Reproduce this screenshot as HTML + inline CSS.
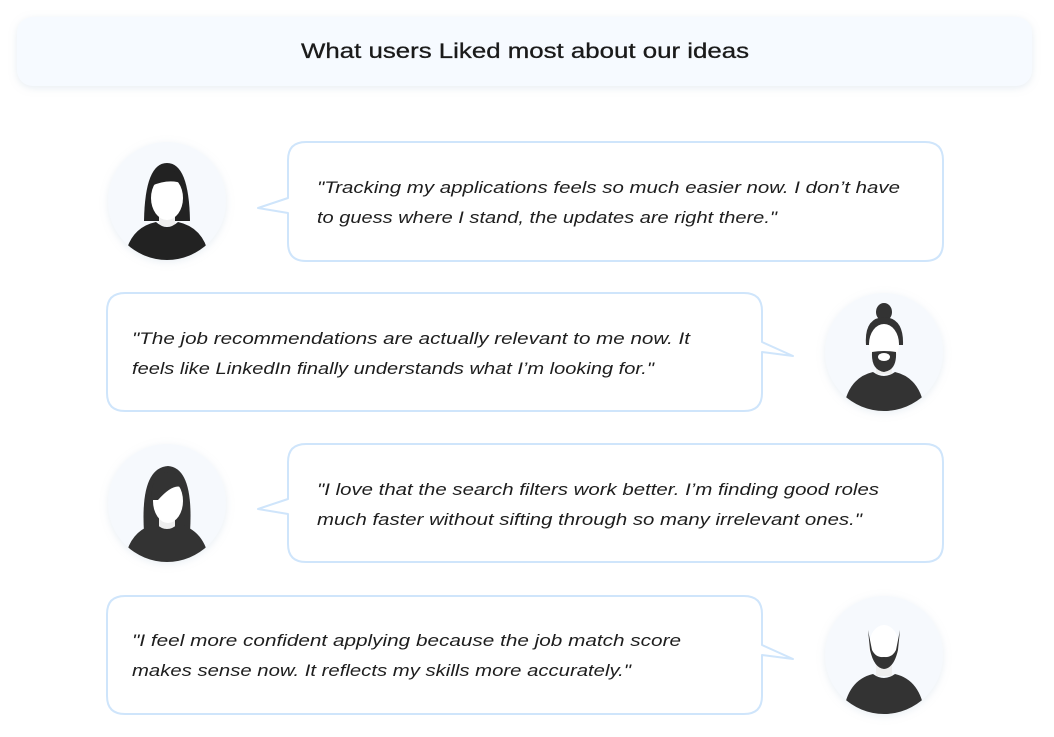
<!DOCTYPE html>
<html><head><meta charset="utf-8"><style>
html,body{margin:0;padding:0;background:#fff;}
svg{display:block;}
text{font-family:"Liberation Sans",sans-serif;}
.q{font-size:17px;font-style:italic;fill:#1e1e1e;}
</style></head><body>
<svg width="1054" height="737" viewBox="0 0 1054 737" xmlns="http://www.w3.org/2000/svg">
<defs>
<filter id="sh" x="-20%" y="-40%" width="140%" height="180%"><feDropShadow dx="0" dy="2" stdDeviation="4" flood-color="#9fb6cc" flood-opacity="0.25"/></filter>
<filter id="cs" x="-30%" y="-30%" width="160%" height="160%"><feDropShadow dx="0" dy="2" stdDeviation="4" flood-color="#a8bdd2" flood-opacity="0.25"/></filter>
<clipPath id="c1"><circle cx="167" cy="201" r="59"/></clipPath>
<clipPath id="c2"><circle cx="884" cy="352" r="59"/></clipPath>
<clipPath id="c3"><circle cx="167" cy="503" r="59"/></clipPath>
<clipPath id="c4"><circle cx="884" cy="655" r="59"/></clipPath>
</defs>
<rect x="17" y="17" width="1015" height="69" rx="16" fill="#f6faff" filter="url(#sh)"/>
<text x="525" y="58" text-anchor="middle" font-size="21" fill="#1a1a1a" stroke="#1a1a1a" stroke-width="0.3" textLength="448" lengthAdjust="spacingAndGlyphs">What users Liked most about our ideas</text>

<g fill="#fff" stroke="#cfe5fb" stroke-width="2" stroke-linejoin="round">
<path d="M306,142 H925 Q943,142 943,160 V243 Q943,261 925,261 H306 Q288,261 288,243 V213 L258,208 L288,198 V160 Q288,142 306,142 Z"/>
<path d="M125,293 H744 Q762,293 762,311 V342 L793,356 L762,352 V393 Q762,411 744,411 H125 Q107,411 107,393 V311 Q107,293 125,293 Z"/>
<path d="M306,444 H925 Q943,444 943,462 V544 Q943,562 925,562 H306 Q288,562 288,544 V514 L258,509 L288,499 V462 Q288,444 306,444 Z"/>
<path d="M125,596 H744 Q762,596 762,614 V645 L793,659 L762,655 V696 Q762,714 744,714 H125 Q107,714 107,696 V614 Q107,596 125,596 Z"/>
</g>

<text class="q" x="317" y="193" textLength="583" lengthAdjust="spacingAndGlyphs">"Tracking my applications feels so much easier now. I don’t have</text>
<text class="q" x="317" y="223" textLength="460" lengthAdjust="spacingAndGlyphs">to guess where I stand, the updates are right there."</text>
<text class="q" x="132" y="344" textLength="558" lengthAdjust="spacingAndGlyphs">"The job recommendations are actually relevant to me now. It</text>
<text class="q" x="132" y="374" textLength="522" lengthAdjust="spacingAndGlyphs">feels like LinkedIn finally understands what I’m looking for."</text>
<text class="q" x="317" y="495" textLength="562" lengthAdjust="spacingAndGlyphs">"I love that the search filters work better. I’m finding good roles</text>
<text class="q" x="317" y="525" textLength="545" lengthAdjust="spacingAndGlyphs">much faster without sifting through so many irrelevant ones."</text>
<text class="q" x="132" y="646" textLength="549" lengthAdjust="spacingAndGlyphs">"I feel more confident applying because the job match score</text>
<text class="q" x="132" y="676" textLength="499" lengthAdjust="spacingAndGlyphs">makes sense now. It reflects my skills more accurately."</text>

<g filter="url(#cs)" fill="#f6f9fd">
<circle cx="167" cy="201" r="59"/><circle cx="884" cy="352" r="59"/>
<circle cx="167" cy="503" r="59"/><circle cx="884" cy="655" r="59"/>
</g>
<g clip-path="url(#c1)">
<path d="M144,221 Q145,163 167,163 Q189,163 190,221 Z" fill="#222"/>
<rect x="159" y="212" width="16" height="14" fill="#eee"/>
<path d="M124,262 Q128,228 156,222 Q167,232 178,222 Q206,228 210,262 Z" fill="#222"/>
<ellipse cx="167" cy="198" rx="16" ry="22" fill="#fff"/>
<path d="M151,186 Q153,170 167,170 Q181,170 183,184 Q170,178 151,186 Z" fill="#222"/>
</g>
<g clip-path="url(#c2)">
<ellipse cx="884" cy="312" rx="8" ry="9" fill="#333"/>
<path d="M866,345 Q864,318 884,317 Q904,318 903,345 Z" fill="#333"/>
<rect x="876" y="360" width="16" height="14" fill="#eee"/>
<path d="M843,412 Q847,378 873,372 Q884,380 895,372 Q921,378 925,412 Z" fill="#333"/>
<ellipse cx="884" cy="344" rx="15" ry="20" fill="#fff"/>
<path d="M872,352 Q884,350 896,352 Q897,370 884,372 Q871,370 872,352 Z" fill="#333"/>
<ellipse cx="884" cy="357" rx="6" ry="4" fill="#fff"/>
</g>
<g clip-path="url(#c3)">
<path d="M144,532 Q140,468 168,466 Q194,468 190,532 Z" fill="#333"/>
<rect x="159" y="515" width="16" height="14" fill="#eee"/>
<path d="M124,565 Q128,530 156,524 Q167,534 178,524 Q206,530 210,565 Z" fill="#333"/>
<ellipse cx="168" cy="501" rx="15" ry="22" fill="#fff"/>
<path d="M152,500 Q150,472 170,472 Q184,475 183,488 Q174,482 158,500 Z" fill="#333"/>
</g>
<g clip-path="url(#c4)">
<rect x="876" y="662" width="16" height="14" fill="#eee"/>
<path d="M843,715 Q847,680 873,674 Q884,682 895,674 Q921,680 925,715 Z" fill="#333"/>
<ellipse cx="884" cy="646" rx="15" ry="21" fill="#fff"/>
<path d="M868,630 L870,650 Q874,668 884,669 Q894,668 898,650 L900,630 L896,650 Q892,658 884,657 Q876,658 872,650 Z" fill="#333"/>
<ellipse cx="884" cy="661" rx="5" ry="4" fill="#333"/>
</g>
</svg>
</body></html>
